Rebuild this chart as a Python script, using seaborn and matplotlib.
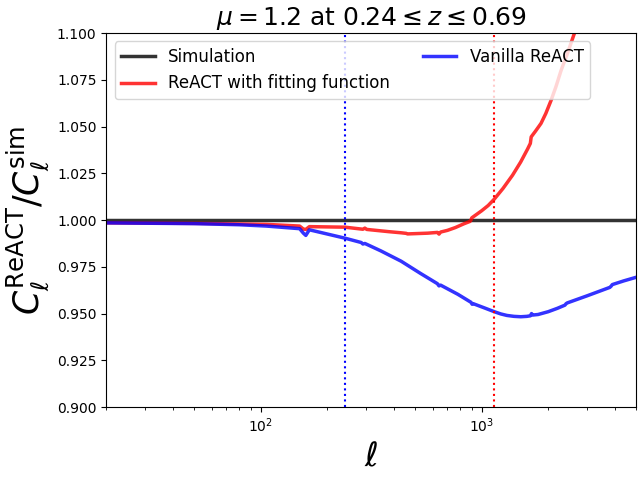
import numpy as np
import pandas as pd
import matplotlib
matplotlib.use("Agg")
import matplotlib.pyplot as plt
import seaborn as sns

# multipole values and ratios
ell_sim = [20, 5000]
ratio_sim = [1.0, 1.0]

ell_fit = [20, 53, 106, 150, 156, 160, 166, 241, 290, 296, 302, 380, 432, 455, 462, 570,
           630, 641, 652, 700, 760, 830, 886, 894, 902, 1000, 1070, 1140, 1250, 1379, 1500,
           1613, 1660, 1675, 1750, 1855, 1950, 2060, 2170, 2286, 2450, 2627, 2800, 3000,
           4000, 5000]
ratio_fit = [0.9985, 0.9982, 0.9977, 0.9968, 0.9952, 0.9950, 0.9965, 0.9962, 0.9951, 0.9957,
             0.9950, 0.9938, 0.9932, 0.9929, 0.9926, 0.9930, 0.9934, 0.9925, 0.9936, 0.9945,
             0.9960, 0.9980, 0.9993, 1.0000, 1.0012, 1.0050, 1.0078, 1.0112, 1.0170, 1.0240,
             1.0310, 1.0380, 1.0410, 1.0445, 1.0475, 1.0517, 1.0570, 1.0640, 1.0715, 1.0800,
             1.0895, 1.0999, 1.1110, 1.1250, 1.1900, 1.2500]

ell_van = [20, 50, 80, 106, 150, 156, 160, 166, 241, 285, 290, 296, 350, 432, 528, 630, 641,
           652, 780, 895, 905, 915, 1030, 1140, 1220, 1300, 1400, 1503, 1600, 1660, 1681, 1700,
           1800, 2000, 2200, 2380, 2410, 2440, 3000, 3800, 3855, 3900, 4400, 5000]
ratio_van = [0.9985, 0.9981, 0.9975, 0.9968, 0.9954, 0.9930, 0.9918, 0.9948, 0.9903, 0.9880,
             0.9872, 0.9875, 0.9835, 0.9780, 0.9715, 0.9660, 0.9648, 0.9652, 0.9603, 0.9560,
             0.9550, 0.9553, 0.9530, 0.9510, 0.9498, 0.9490, 0.9485, 0.9483, 0.9485, 0.9488,
             0.9500, 0.9492, 0.9495, 0.9510, 0.9528, 0.9545, 0.9553, 0.9557, 0.9595, 0.9640,
             0.9647, 0.9655, 0.9675, 0.9694]

ell_cut_van = 241
ell_cut_fit = 1134

df_sim = pd.DataFrame({"ell": ell_sim, "ratio": ratio_sim})
df_fit = pd.DataFrame({"ell": ell_fit, "ratio": ratio_fit})
df_van = pd.DataFrame({"ell": ell_van, "ratio": ratio_van})

fig, ax = plt.subplots(figsize=(6.4, 4.8), dpi=100)
sns.lineplot(data=df_sim, x="ell", y="ratio", ax=ax, color="k", alpha=0.8, lw=2.5,
             label="Simulation")
sns.lineplot(data=df_fit, x="ell", y="ratio", ax=ax, color="r", alpha=0.8, lw=2.5,
             label="ReACT with fitting function")
sns.lineplot(data=df_van, x="ell", y="ratio", ax=ax, color="b", alpha=0.8, lw=2.5,
             label="Vanilla ReACT")
ax.axvline(ell_cut_van, color="b", ls=":", lw=1.5)
ax.axvline(ell_cut_fit, color="r", ls=":", lw=1.5)

ax.set_xscale("log")
ax.set_xlim(20, 5000)
ax.set_ylim(0.9, 1.1)
ax.set_yticks(np.arange(0.9, 1.1001, 0.025))
ax.set_xlabel(r"$\ell$", fontsize=24)
ax.set_ylabel(r"$C_\ell^{\rm ReACT}/C_\ell^{\rm sim}$", fontsize=25)
ax.set_title(r"$\mu=1.2$ at $0.24 \leq z \leq 0.69$", fontsize=18)
ax.legend(loc="upper left", ncol=2, fontsize=12)

plt.subplots_adjust(left=0.166, right=0.994, top=0.931, bottom=0.152)
plt.savefig("out.png")
